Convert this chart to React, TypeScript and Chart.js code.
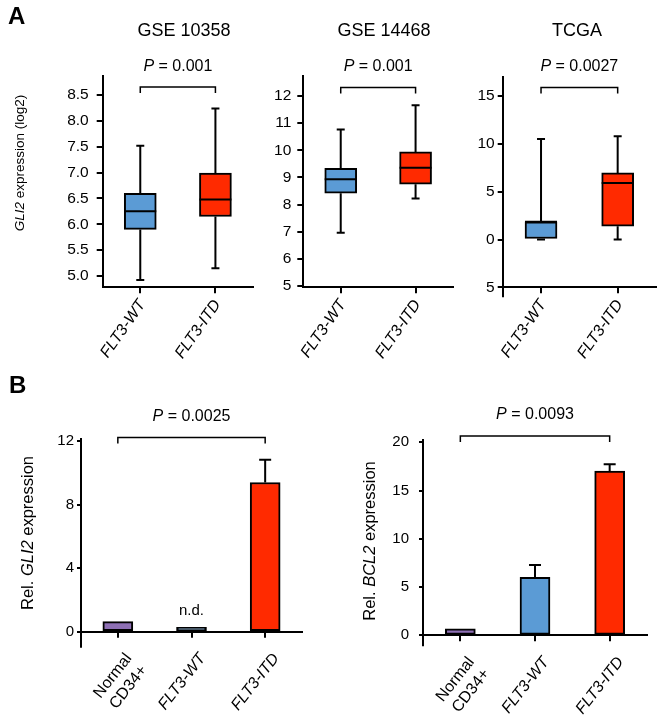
import React, { useEffect, useRef } from 'react';
import { Chart, registerables } from 'chart.js';
Chart.register(...registerables);

const FONT = '"Liberation Sans", Arial, Helvetica, sans-serif';
const BLUE = '#5b9bd5';
const RED = '#ff2a00';
const PURPLE = '#8e6fb4';

// ---------- Panel A data (box plots) ----------
const A_CATEGORIES = ['FLT3-WT', 'FLT3-ITD'];
const A_COLORS = [BLUE, RED];

const GSE10358_MIN = [4.92, 5.15];
const GSE10358_Q1 = [5.9, 6.15];
const GSE10358_MED = [6.25, 6.48];
const GSE10358_Q3 = [6.6, 6.99];
const GSE10358_MAX = [7.52, 8.24];
const GSE10358_TICKS = [5.0, 5.5, 6.0, 6.5, 7.0, 7.5, 8.0, 8.5];

const GSE14468_MIN = [6.96, 8.22];
const GSE14468_Q1 = [8.42, 8.75];
const GSE14468_MED = [8.93, 9.36];
const GSE14468_Q3 = [9.34, 9.94];
const GSE14468_MAX = [10.77, 11.66];
const GSE14468_TICKS = [5, 6, 7, 8, 9, 10, 11, 12];

const TCGA_MIN = [0, 0];
const TCGA_Q1 = [0, 1.39];
const TCGA_MED = [1.85, 5.92];
const TCGA_Q3 = [1.85, 6.97];
const TCGA_MAX = [10.52, 10.8];
const TCGA_TICKS = [-5, 0, 5, 10, 15];

// ---------- Panel B data (bar charts) ----------
const B_CATEGORIES = [['Normal', 'CD34+'], 'FLT3-WT', 'FLT3-ITD'];
const B_COLORS = [PURPLE, BLUE, RED];
const GLI2_VALUES = [0.63, 0.28, 9.39];
const GLI2_ERRORS = [0, 0, 1.43];
const GLI2_TICKS = [0, 4, 8, 12];
const BCL2_VALUES = [0.68, 6.01, 17.03];
const BCL2_ERRORS = [0, 1.28, 0.69];
const BCL2_TICKS = [0, 5, 10, 15, 20];

type Part = { t: string; i?: boolean };

function drawMixed(ctx: CanvasRenderingContext2D, parts: Part[], x: number, y: number, size: number) {
  let total = 0;
  const ws: number[] = [];
  for (const p of parts) {
    ctx.font = `${p.i ? 'italic ' : ''}${size}px ${FONT}`;
    const w = ctx.measureText(p.t).width;
    ws.push(w);
    total += w;
  }
  let cx = x - total / 2;
  ctx.textAlign = 'left';
  ctx.textBaseline = 'middle';
  parts.forEach((p, k) => {
    ctx.font = `${p.i ? 'italic ' : ''}${size}px ${FONT}`;
    ctx.fillText(p.t, cx, y);
    cx += ws[k];
  });
}

function padFor(s: any) {
  return {
    left: s.area.L - s.region.x - s.yW,
    top: s.area.T - s.region.y,
    right: s.region.x + s.region.w - s.area.R,
    bottom: s.region.y + s.region.h - s.area.B - s.xH,
  };
}

function decoPlugin(s: any) {
  return {
    id: 'deco',
    afterDraw(chart: any) {
      const ctx: CanvasRenderingContext2D = chart.ctx;
      const xs = chart.scales.x;
      const ys = chart.scales.y;
      const ox = s.region.x;
      const oy = s.region.y;
      const ca = chart.chartArea;
      ctx.save();
      ctx.fillStyle = '#000';
      ctx.strokeStyle = '#000';
      ctx.lineCap = 'butt';

      if (s.overhang) {
        const xl = Math.round(ca.left - 1) + 1;
        ctx.lineWidth = 2;
        ctx.beginPath();
        ctx.moveTo(xl, ca.bottom);
        ctx.lineTo(xl, ca.bottom + s.overhang);
        ctx.stroke();
      }

      if (s.letter) {
        ctx.font = `bold 24px ${FONT}`;
        ctx.textAlign = 'left';
        ctx.textBaseline = 'middle';
        ctx.fillText(s.letter.t, s.letter.x - ox, s.letter.y - oy);
      }

      if (s.title) {
        ctx.font = `18px ${FONT}`;
        ctx.textAlign = 'center';
        ctx.textBaseline = 'middle';
        ctx.fillText(s.title, s.titleX - ox, s.titleY - oy);
      }

      const x1 = xs.getPixelForValue(s.bracket[0]);
      const x2 = xs.getPixelForValue(s.bracket[1]);
      const by = ys.getPixelForValue(s.bracketY);
      ctx.lineWidth = 1.5;
      ctx.beginPath();
      ctx.moveTo(x1, by + 6);
      ctx.lineTo(x1, by);
      ctx.lineTo(x2, by);
      ctx.lineTo(x2, by + 6);
      ctx.stroke();
      drawMixed(ctx, [{ t: 'P', i: true }, { t: ' = ' + s.pValue }], (x1 + x2) / 2, by - 21, 16);

      if (s.yTitle.length) {
        ctx.save();
        ctx.translate(s.yTitleX - ox, s.yTitleY - oy);
        ctx.rotate(-Math.PI / 2);
        drawMixed(ctx, s.yTitle, 0, 0, s.yTitleSize);
        ctx.restore();
      }

      ctx.lineWidth = 2;
      if (s.kind === 'box') {
        s.labels.forEach((_: any, i: number) => {
          const x = xs.getPixelForValue(i);
          const yMax = ys.getPixelForValue(s.max[i]);
          const yQ3 = ys.getPixelForValue(s.q3[i]);
          const yQ1 = ys.getPixelForValue(s.q1[i]);
          const yMin = ys.getPixelForValue(s.min[i]);
          const yMed = ys.getPixelForValue(s.med[i]);
          ctx.beginPath();
          ctx.moveTo(x, yQ3);
          ctx.lineTo(x, yMax);
          ctx.moveTo(x - 4, yMax);
          ctx.lineTo(x + 4, yMax);
          ctx.moveTo(x, yQ1);
          ctx.lineTo(x, yMin);
          ctx.moveTo(x - 4, yMin);
          ctx.lineTo(x + 4, yMin);
          ctx.moveTo(x - 16, yMed);
          ctx.lineTo(x + 16, yMed);
          ctx.stroke();
        });
      } else {
        s.values.forEach((v: number, i: number) => {
          const e = s.errors[i];
          if (!e) return;
          const x = xs.getPixelForValue(i);
          const yv = ys.getPixelForValue(v);
          const ye = ys.getPixelForValue(v + e);
          ctx.beginPath();
          ctx.moveTo(x, yv);
          ctx.lineTo(x, ye);
          ctx.moveTo(x - 6, ye);
          ctx.lineTo(x + 6, ye);
          ctx.stroke();
        });
        if (s.nd != null) {
          const x = xs.getPixelForValue(s.nd);
          const y = ys.getPixelForValue(s.values[s.nd]) - 16;
          ctx.font = `15px ${FONT}`;
          ctx.textAlign = 'center';
          ctx.textBaseline = 'middle';
          ctx.fillText('n.d.', x, y);
        }
      }
      ctx.restore();
    },
  };
}

function buildChart(canvas: HTMLCanvasElement, s: any) {
  const isBox = s.kind === 'box';
  const dataset: any = isBox
    ? {
        data: s.q1.map((v: number, i: number) => [v, s.q3[i]]),
        backgroundColor: s.colors,
        borderColor: '#000',
        borderWidth: 2,
        borderSkipped: false,
        barThickness: 32,
      }
    : {
        data: s.values,
        backgroundColor: s.colors,
        borderColor: '#000',
        borderWidth: 2,
        borderSkipped: false,
        barThickness: 30,
      };
  return new Chart(canvas, {
    type: 'bar',
    data: { labels: s.labels, datasets: [dataset] },
    options: {
      responsive: false,
      animation: false,
      layout: { padding: padFor(s), autoPadding: false } as any,
      plugins: { legend: { display: false }, tooltip: { enabled: false }, title: { display: false } },
      scales: {
        x: {
          type: 'category',
          offset: true,
          grid: {
            display: true,
            drawOnChartArea: false,
            drawTicks: true,
            tickLength: 6,
            lineWidth: 2,
            tickWidth: 2,
            tickColor: '#000',
            color: '#000',
            offset: false,
          },
          border: { display: true, color: '#000', width: 2 },
          ticks: {
            color: '#000',
            autoSkip: false,
            minRotation: s.xRot,
            maxRotation: s.xRot,
            padding: s.xPad,
            labelOffset: s.xOffset,
            font: (c: any) => ({
              family: FONT,
              size: 16,
              style: isBox || c.index > 0 ? 'italic' : 'normal',
            }),
          },
          afterFit: (sc: any) => {
            sc.height = s.xH;
            sc.paddingLeft = 0;
            sc.paddingRight = 0;
          },
        } as any,
        y: {
          type: 'linear',
          min: s.yMin,
          max: s.yMax,
          grid: {
            display: true,
            drawOnChartArea: false,
            drawTicks: true,
            tickLength: s.tickLen,
            lineWidth: 2,
            tickWidth: 2,
            tickColor: '#000',
            color: '#000',
          },
          border: { display: true, color: '#000', width: 2 },
          ticks: {
            color: '#000',
            padding: s.tickPad,
            font: { family: FONT, size: s.tickSize },
            callback: s.tickFmt,
          },
          afterBuildTicks: (sc: any) => {
            sc.ticks = s.ticks.map((v: number) => ({ value: v }));
          },
          afterFit: (sc: any) => {
            sc.width = s.yW;
            sc.paddingTop = 0;
            sc.paddingBottom = 0;
          },
        } as any,
      },
    },
    plugins: [decoPlugin(s)],
  });
}

const SPECS: any[] = [
  {
    kind: 'box',
    region: { x: 0, y: 0, w: 258, h: 375 },
    area: { L: 102.7, T: 76, R: 253, B: 287.3 },
    yW: 60, xH: 80, xRot: 55, xPad: 3, xOffset: 2,
    yMin: 4.78, yMax: 8.87,
    ticks: GSE10358_TICKS,
    tickFmt: (v: number) => v.toFixed(1),
    tickLen: 6, tickPad: 8, tickSize: 15.5,
    labels: A_CATEGORIES, colors: A_COLORS,
    min: GSE10358_MIN, q1: GSE10358_Q1, med: GSE10358_MED, q3: GSE10358_Q3, max: GSE10358_MAX,
    title: 'GSE 10358', titleX: 184, titleY: 31,
    bracket: [0, 1], bracketY: 8.655, pValue: '0.001',
    yTitle: [{ t: 'GLI2', i: true }, { t: ' expression (log2)' }], yTitleX: 20, yTitleY: 163, yTitleSize: 13.5,
    letter: { t: 'A', x: 8, y: 17 },
  },
  {
    kind: 'box',
    region: { x: 258, y: 0, w: 200, h: 375 },
    area: { L: 303.3, T: 76, R: 453, B: 287.3 },
    yW: 40, xH: 80, xRot: 55, xPad: 3, xOffset: 2,
    yMin: 4.95, yMax: 12.74,
    ticks: GSE14468_TICKS,
    tickFmt: (v: number) => String(v),
    tickLen: 6, tickPad: 6, tickSize: 15.5,
    labels: A_CATEGORIES, colors: A_COLORS,
    min: GSE14468_MIN, q1: GSE14468_Q1, med: GSE14468_MED, q3: GSE14468_Q3, max: GSE14468_MAX,
    title: 'GSE 14468', titleX: 384, titleY: 31,
    bracket: [0, 1], bracketY: 12.32, pValue: '0.001',
    yTitle: [], yTitleX: 0, yTitleY: 0, yTitleSize: 13.5,
  },
  {
    kind: 'box',
    region: { x: 458, y: 0, w: 206, h: 375 },
    area: { L: 502.7, T: 77, R: 656, B: 287.3 },
    yW: 40, xH: 80, xRot: 55, xPad: 3, xOffset: 2,
    yMin: -5, yMax: 17,
    ticks: TCGA_TICKS,
    tickFmt: (v: number) => String(Math.abs(v)),
    tickLen: 5, tickPad: 3, tickSize: 15.5,
    labels: A_CATEGORIES, colors: A_COLORS,
    min: TCGA_MIN, q1: TCGA_Q1, med: TCGA_MED, q3: TCGA_Q3, max: TCGA_MAX,
    title: 'TCGA', titleX: 577, titleY: 31,
    bracket: [0, 1], bracketY: 15.9, pValue: '0.0027',
    yTitle: [], yTitleX: 0, yTitleY: 0, yTitleSize: 13.5,
    overhang: 10,
  },
  {
    kind: 'bar',
    region: { x: 0, y: 375, w: 332, h: 346 },
    area: { L: 81, T: 439, R: 302, B: 631.7 },
    yW: 40, xH: 84, xRot: 52, xPad: 12, xOffset: 11,
    yMin: 0, yMax: 12.13,
    ticks: GLI2_TICKS,
    tickFmt: (v: number) => String(v),
    tickLen: 4, tickPad: 3, tickSize: 15,
    labels: B_CATEGORIES, colors: B_COLORS,
    values: GLI2_VALUES, errors: GLI2_ERRORS, nd: 1,
    bracket: [0, 2], bracketY: 12.23, pValue: '0.0025',
    yTitle: [{ t: 'Rel. ' }, { t: 'GLI2', i: true }, { t: ' expression' }], yTitleX: 28, yTitleY: 533, yTitleSize: 16.5,
    letter: { t: 'B', x: 9, y: 386 },
    overhang: 16,
  },
  {
    kind: 'bar',
    region: { x: 332, y: 375, w: 332, h: 346 },
    area: { L: 423, T: 440, R: 647, B: 635.3 },
    yW: 40, xH: 84, xRot: 52, xPad: 12, xOffset: 11,
    yMin: 0, yMax: 20.24,
    ticks: BCL2_TICKS,
    tickFmt: (v: number) => String(v),
    tickLen: 4, tickPad: 10, tickSize: 15,
    labels: B_CATEGORIES, colors: B_COLORS,
    values: BCL2_VALUES, errors: BCL2_ERRORS, nd: null,
    bracket: [0, 2], bracketY: 20.65, pValue: '0.0093',
    yTitle: [{ t: 'Rel. ' }, { t: 'BCL2', i: true }, { t: ' expression' }], yTitleX: 370, yTitleY: 541, yTitleSize: 16.5,
    overhang: 11,
  },
];

function Panel({ spec }: { spec: any }) {
  const ref = useRef<HTMLCanvasElement | null>(null);
  useEffect(() => {
    if (!ref.current) return;
    const chart = buildChart(ref.current, spec);
    return () => chart.destroy();
  }, [spec]);
  const r = spec.region;
  return (
    <canvas
      ref={ref}
      width={r.w}
      height={r.h}
      style={{ position: 'absolute', left: r.x, top: r.y, width: r.w, height: r.h }}
    />
  );
}

export default function App() {
  return (
    <div style={{ position: 'absolute', left: 0, top: 0, width: 664, height: 721, background: '#fff' }}>
      {SPECS.map((s, i) => (
        <Panel key={i} spec={s} />
      ))}
    </div>
  );
}
